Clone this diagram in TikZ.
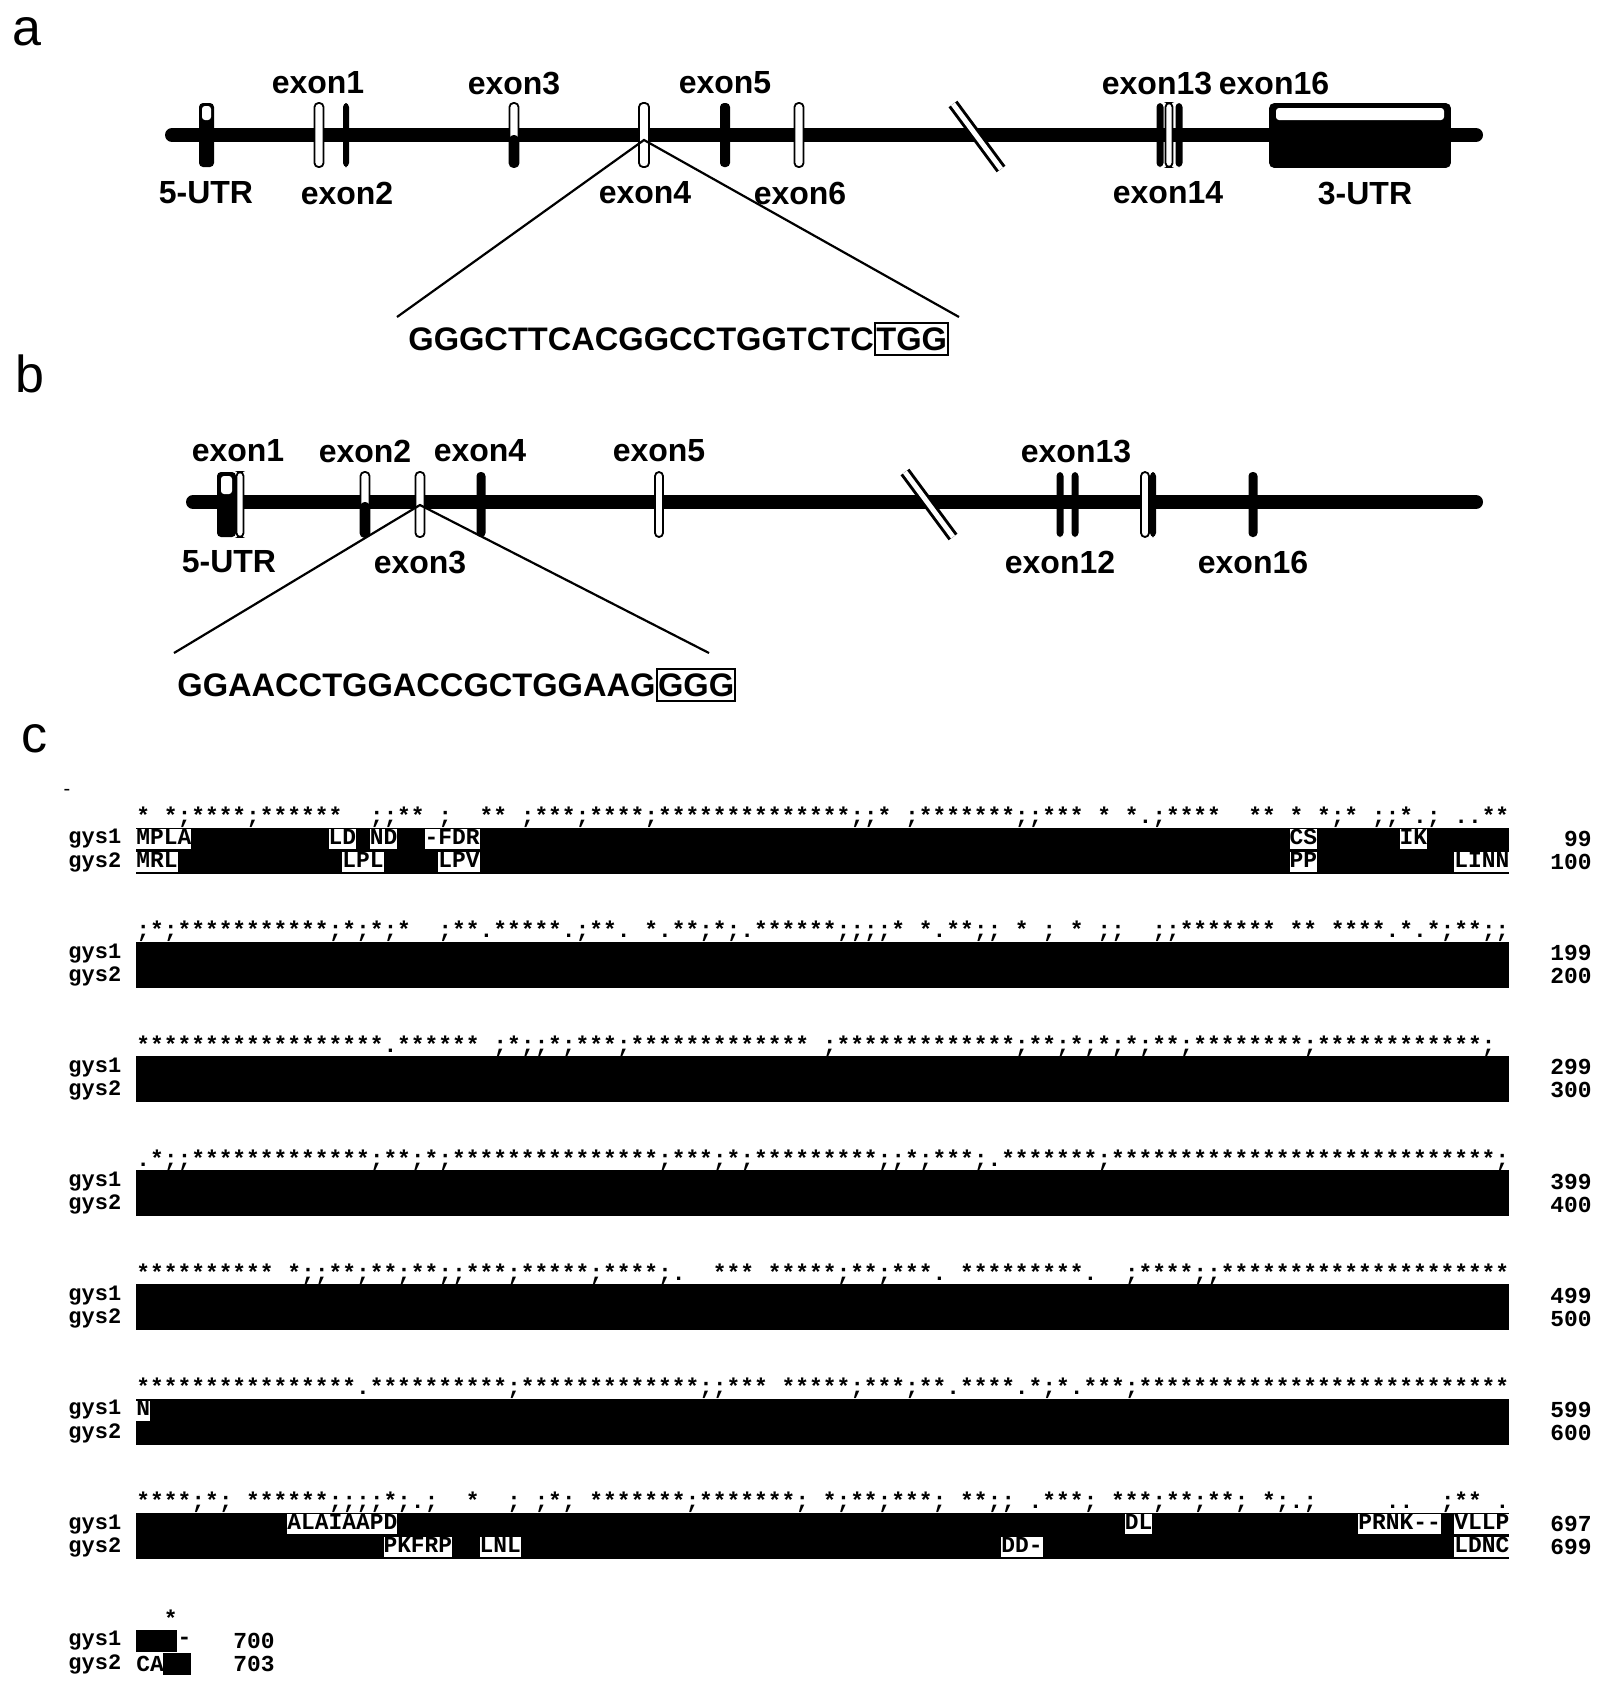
\documentclass[tikz,border=0pt]{standalone}
\usepackage{fontspec}
\setmainfont{Liberation Sans}
\newfontfamily\monof{Liberation Mono}
\tikzset{
  plab/.style={font=\fontsize{26}{28}\selectfont, inner sep=0},
  lbl/.style={font=\fontsize{16}{18}\selectfont\bfseries, inner sep=0},
  seqt/.style={font=\fontsize{16.3}{18}\selectfont\bfseries, inner sep=0, anchor=base west},
  seqbox/.style={font=\fontsize{16.3}{18}\selectfont\bfseries, draw, line width=1pt, inner xsep=0.6pt, inner ysep=2.2pt, anchor=base west},
  gline/.style={line width=7pt, line cap=round},
  zline/.style={line width=1.1pt},
  exw/.style={draw, fill=white, line width=0.9pt, rounded corners=2pt},
  exb/.style={fill=black, rounded corners=2pt},
  aln/.style={font=\monof\bfseries\fontsize{11.44}{12}\selectfont, inner sep=0, anchor=west},
  snip/.style={aln, fill=white, text height=7.6pt, text depth=2.4pt},
  nm/.style={font=\monof\bfseries\fontsize{11}{12}\selectfont, inner sep=0, anchor=west},
  num/.style={font=\monof\bfseries\fontsize{11.44}{12}\selectfont, inner sep=0, anchor=east},
}
\newcommand\exonWhite[4]{\path[exw] ({#1-#4/2},#2) rectangle ({#1+#4/2},#3);}
\newcommand\exonBlack[4]{\path[exb] ({#1-#4/2},#2) rectangle ({#1+#4/2},#3);}
\newcommand\exonHalf[5]{\path[exw] ({#1-#4/2},#2) rectangle ({#1+#4/2},#3);\path[exb] ({#1-#4/2},#5) rectangle ({#1+#4/2},#3);}
\newcommand\snipnode[4]{\node[snip] (#4) at ({136+13.73*#1},#2) {#3};}
\newcommand\breakmark[4]{\draw[line width=5.5pt] (#1,#2) -- (#3,#4);\draw[line width=2.5pt, white] (#1,#2) -- (#3,#4);}
\begin{document}
\begin{tikzpicture}[x=0.5pt,y=-0.5pt]
\useasboundingbox (0,0) rectangle (1603,1683);
\fill[white] (0,0) rectangle (1603,1683);

% panel letters
\node[plab] (pa) at (27,32) {a};
\node[plab] (pb) at (30,374) {b};
\node[plab] (pc) at (34,739) {c};

% ---------------- gene a ----------------
\coordinate (a0) at (172,135);
\coordinate (a1) at (1476,135);
\draw[gline] (a0) -- (a1);
\breakmark{953}{104}{1001}{169}
% 5-UTR
\path[exb] (199,103) rectangle (214,167);
\path[fill=white, rounded corners=1.5pt] (202,106) rectangle (211,120);
\exonWhite{319}{103}{167}{9}
\exonBlack{346}{103}{167}{6}
\exonHalf{514}{103}{167}{9}{135}
\exonWhite{644}{103}{167}{10}
\exonBlack{725}{103}{167}{10}
\exonWhite{799}{103}{167}{9}
\exonBlack{1160}{103}{167}{7}
\exonWhite{1169}{103}{167}{7}
\exonBlack{1179}{103}{167}{7}
% 3-UTR
\path[draw, fill=black, line width=0.8pt, rounded corners=2pt] (1270,104) rectangle (1450,167);
\path[fill=white, rounded corners=1.5pt] (1276,108) rectangle (1444,120);

\node[lbl] (la1) at (318,83) {exon1};
\node[lbl] (la3) at (514,83) {exon3};
\node[lbl] (la5) at (725,83) {exon5};
\node[lbl] (la13) at (1157,83) {exon13};
\node[lbl] (la16) at (1274,83) {exon16};
\node[lbl] (lau5) at (206,193) {5-UTR};
\node[lbl] (la2) at (347,193) {exon2};
\node[lbl] (la4) at (645,193) {exon4};
\node[lbl] (la6) at (800,193) {exon6};
\node[lbl] (la14) at (1168,193) {exon14};
\node[lbl] (lau3) at (1365,193) {3-UTR};

\coordinate (za) at (644,140);
\coordinate (zal) at (397,317);
\coordinate (zar) at (959,317);
\draw[zline] (zal) -- (za) -- (zar);
\node[seqt] (sa) at (408,350) {GGGCTTCACGGCCTGGTCTC};
\node[seqbox] (sab) at (sa.base east) {TGG};

% ---------------- gene b ----------------
\coordinate (b0) at (193,502);
\coordinate (b1) at (1476,502);
\draw[gline] (b0) -- (b1);
\breakmark{905}{472}{953}{537}
\path[exb] (217,472) rectangle (236,537);
\path[fill=white, rounded corners=1.5pt] (221,476) rectangle (232,494);
\exonWhite{240}{472}{537}{7}
\exonHalf{365}{472}{537}{9}{502}
\exonWhite{420}{472}{537}{9}
\exonBlack{481}{472}{537}{9}
\exonWhite{659}{472}{537}{8}
\exonBlack{1060}{472}{537}{7}
\exonBlack{1075}{472}{537}{7}
\exonWhite{1145}{472}{537}{8}
\exonBlack{1153}{472}{537}{6}
\exonBlack{1253}{472}{537}{9}

\node[lbl] (lb1) at (238,451) {exon1};
\node[lbl] (lb2) at (365,451) {exon2};
\node[lbl] (lb4) at (480,451) {exon4};
\node[lbl] (lb5) at (659,451) {exon5};
\node[lbl] (lb13) at (1076,451) {exon13};
\node[lbl] (lbu5) at (229,562) {5-UTR};
\node[lbl] (lb3) at (420,562) {exon3};
\node[lbl] (lb12) at (1060,562) {exon12};
\node[lbl] (lb16) at (1253,562) {exon16};

\coordinate (zb) at (420,505);
\coordinate (zbl) at (174,653);
\coordinate (zbr) at (709,653);
\draw[zline] (zbl) -- (zb) -- (zbr);
\node[seqt] (sb) at (177,696) {GGAACCTGGACCGCTGGAAG};
\node[seqbox] (sbb) at (sb.base east) {GGG};

% ---------------- alignment c ----------------
\node[font=\fontsize{10}{10}\selectfont, inner sep=0] (dash) at (67,792) {-};

\foreach \k/\na/\nb in {0/99/100,1/199/200,2/299/300,3/399/400,4/499/500,5/599/600,6/697/699}{
  \pgfmathsetmacro\ya{839+114.2*\k}
  \pgfmathsetmacro\yb{862+114.2*\k}
  \fill (136,{\ya-11.5}) rectangle (1509,{\yb+11.5});
  \node[nm] (na\k) at (68,\ya) {gys1};
  \node[nm] (nb\k) at (68,\yb) {gys2};
  \node[num] (ca\k) at (1592,\ya) {\na};
  \node[num] (cb\k) at (1592,\yb) {\nb};
}

\node[aln] (cons0) at (136,817.5) {*~*;****;******~~;;**~;~~**~;***;****;**************;;*~;*******;;***~*~*.;****~~**~*~*;*~;;*.;~..**};
\node[aln] (cons1) at (136,931.7) {;*;***********;*;*;*~~;**.*****.;**.~*.**;*;.******;;;;*~*.**;;~*~;~*~;;~~;;*******~**~****.*.*;**;;};
\node[aln] (cons2) at (136,1045.9) {******************.******~;*;;*;***;*************~;*************;**;*;*;*;**;********;************;};
\node[aln] (cons3) at (136,1160.1) {.*;;*************;**;*;***************;***;*;*********;;*;***;.*******;****************************;};
\node[aln] (cons4) at (136,1274.3) {**********~*;;**;**;**;;***;*****;****;.~~***~*****;**;***.~*********.~~;****;;*********************};
\node[aln] (cons5) at (136,1388.5) {****************.**********;*************;;***~*****;***;**.****.*;*.***;***************************};
\node[aln] (cons6) at (136,1502.7) {****;*;~******;;;;*;.;~~*~~;~;*;~*******;*******;~*;**;***;~**;;~.***;~***;**;**;~*;.;~~~~~..~~;**~.};

% visible residues
\snipnode{0}{839}{MPLA}{s1a}
\snipnode{14}{839}{LD}{s1b}
\snipnode{17}{839}{ND}{s1c}
\snipnode{21}{839}{-FDR}{s1d}
\snipnode{84}{839}{CS}{s1e}
\snipnode{92}{839}{IK}{s1f}
\snipnode{0}{862}{MRL}{s2a}
\snipnode{15}{862}{LPL}{s2b}
\snipnode{22}{862}{LPV}{s2c}
\snipnode{84}{862}{PP}{s2d}
\snipnode{96}{862}{LINN}{s2e}
\snipnode{0}{1410.6}{N}{s4a}
\snipnode{11}{1524.2}{ALAIAAPD}{s7a}
\snipnode{72}{1524.2}{DL}{s7b}
\snipnode{89}{1524.2}{PRNK--}{s7c}
\snipnode{96}{1524.2}{VLLP}{s7d}
\snipnode{18}{1547.2}{PKFRP}{s7e}
\snipnode{25}{1547.2}{LNL}{s7f}
\snipnode{63}{1547.2}{DD-}{s7g}
\snipnode{96}{1547.2}{LDNC}{s7h}

% final block
\node[aln] (cons7) at (136,1618) {~~*};
\fill (136,1630) rectangle (177,1652);
\node[aln] (l8a) at ({136+13.73*3},1641) {-};
\node[aln] (l8b) at (136,1664) {CA};
\fill (163,1653) rectangle (191,1675);
\node[nm] (na7) at (68,1641) {gys1};
\node[nm] (nb7) at (68,1664) {gys2};
\node[aln] (ca7) at (233,1641) {700};
\node[aln] (cb7) at (233,1664) {703};
\end{tikzpicture}
\end{document}
